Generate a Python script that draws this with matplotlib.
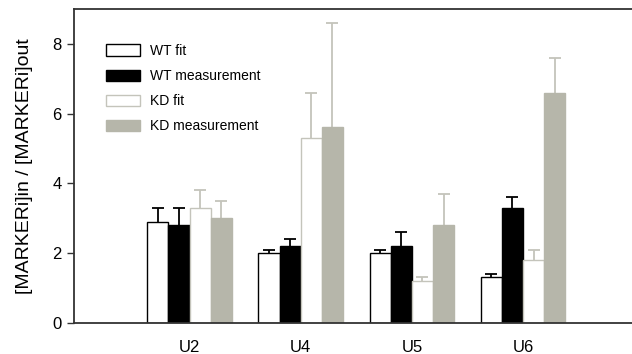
import matplotlib
matplotlib.use("Agg")
import matplotlib.pyplot as plt
import numpy as np

plt.rcParams['font.family'] = ['Liberation Sans', 'DejaVu Sans']

categories = ["U2", "U4", "U5", "U6"]
series_names = ["WT fit", "WT measurement", "KD fit", "KD measurement"]
wt_fit = [2.9, 2.0, 2.0, 1.3]
wt_fit_err = [0.4, 0.1, 0.1, 0.1]
wt_meas = [2.8, 2.2, 2.2, 3.3]
wt_meas_err = [0.5, 0.2, 0.4, 0.3]
kd_fit = [3.3, 5.3, 1.2, 1.8]
kd_fit_err = [0.5, 1.3, 0.1, 0.3]
kd_meas = [3.0, 5.6, 2.8, 6.6]
kd_meas_err = [0.5, 3.0, 0.9, 1.0]
yticks = [0, 2, 4, 6, 8]

fig = plt.figure(figsize=(6.32, 3.54), dpi=100)
ax = fig.add_axes([0.117, 0.088, 0.883, 0.887])

x = np.arange(len(categories))
w = 0.19
gray_fill = "#b6b6aa"
gray_edge = "#c4c4bb"
styles = [
    dict(facecolor="white", edgecolor="black", lw=1.0, ecol="black"),
    dict(facecolor="black", edgecolor="black", lw=1.0, ecol="black"),
    dict(facecolor="white", edgecolor=gray_edge, lw=1.0, ecol=gray_edge),
    dict(facecolor=gray_fill, edgecolor=gray_fill, lw=1.0, ecol=gray_edge),
]
data = [(wt_fit, wt_fit_err), (wt_meas, wt_meas_err), (kd_fit, kd_fit_err), (kd_meas, kd_meas_err)]

for i, ((vals, errs), st, name) in enumerate(zip(data, styles, series_names)):
    pos = x + (i - 1.5) * w
    ax.bar(pos, vals, width=w, facecolor=st["facecolor"], edgecolor=st["edgecolor"],
           linewidth=st["lw"], label=name, zorder=2)
    eb = ax.errorbar(pos, vals, yerr=[np.zeros(len(vals)), errs], fmt="none",
                     ecolor=st["ecol"], elinewidth=1.3, capsize=4.5, capthick=1.3, zorder=1)
    caps = eb[1]
    if len(caps) == 2:
        caps[0].set_visible(False)

ax.set_xlim(-1.04, 3.98)
ax.set_ylim(0, 9)
ax.set_xticks(x)
ax.set_xticklabels(categories, fontsize=12)
ax.set_yticks(yticks)
ax.set_yticklabels([str(t) for t in yticks], fontsize=12)
ax.tick_params(axis="x", length=0, pad=12)
ax.tick_params(axis="y", direction="out", length=5, width=1, color="#333333", pad=4)
for s in ["left", "bottom", "top"]:
    ax.spines[s].set_color("#333333")
    ax.spines[s].set_linewidth(1.3)
ax.spines["right"].set_visible(False)

ax.set_ylabel("[MARKERi]in / [MARKERi]out", fontsize=14, labelpad=14)

leg = ax.legend(loc="upper left", bbox_to_anchor=(0.057, 0.888), frameon=False,
                fontsize=10, handlelength=2.5, handleheight=0.9, handletextpad=0.65,
                labelspacing=0.8, borderpad=0, borderaxespad=0)

fig.savefig("out.png", dpi=100)
